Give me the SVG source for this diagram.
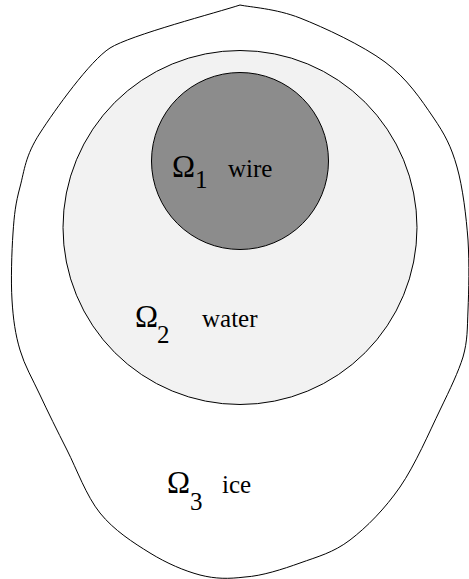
<svg xmlns="http://www.w3.org/2000/svg" width="469" height="579" viewBox="0 0 469 579">
<style>
.ln{stroke:#000;stroke-width:1}
text{font-family:'Liberation Serif','Times New Roman',serif;fill:#000}
.om{font-size:31px}
.lb{font-size:25px}
</style>
<rect width="469" height="579" fill="#fff"/>
<g id="ice">
<path class="ln" fill="#fff" d="M240,5 C218.3,12.2 130,35.2 110,48 C90,60.8 55,109.8 40,133 C25,156.2 24.5,170.3 20,187 C15.5,203.7 14.3,214.2 13,233 C11.7,251.8 10.8,280.5 12,300 C13.2,319.5 15.3,334.2 20,350 C24.7,365.8 32.2,378.3 40,395 C47.8,411.7 57,430.3 67,450 C77,469.7 86.2,495.8 100,513 C113.8,530.2 133.3,542.7 150,553 C166.7,563.3 184.2,570.8 200,575 C215.8,579 228.3,579 245,577 C261.7,576 282.5,569.3 300,563 C317.5,556.7 333.3,552.7 350,540 C366.7,527.3 385,508.7 400,487 C415,465.3 429.5,431.7 440,410 C450.5,388.3 458.3,372 463,357 C467.7,340.3 467.2,329.5 468,310 C468.8,290.5 469.5,263.8 468,240 C466.2,216.2 462.8,187.5 457,167 C451.2,146.5 445,134.5 433,117 C421,99.5 407.2,78.5 385,62 C362.8,45.5 324.2,27.5 300,18 C275.8,8.5 250,7.2 240,5 Z"/>
<text class="om" x="167" y="493">Ω</text>
<text class="lb" x="190" y="510">3</text>
<text class="lb" x="222" y="493">ice</text>
</g>
<g id="water">
<circle class="ln" cx="240" cy="227.5" r="177" fill="#f2f2f2"/>
<text class="om" x="135" y="327">Ω</text>
<text class="lb" x="157" y="343">2</text>
<text class="lb" x="202" y="327">water</text>
</g>
<g id="wire">
<circle class="ln" cx="240" cy="161" r="88.5" fill="#8c8c8c"/>
<text class="om" x="172" y="177">Ω</text>
<text class="lb" x="195" y="188">1</text>
<text class="lb" x="228" y="177">wire</text>
</g>
<g id="connectors"/>
</svg>
